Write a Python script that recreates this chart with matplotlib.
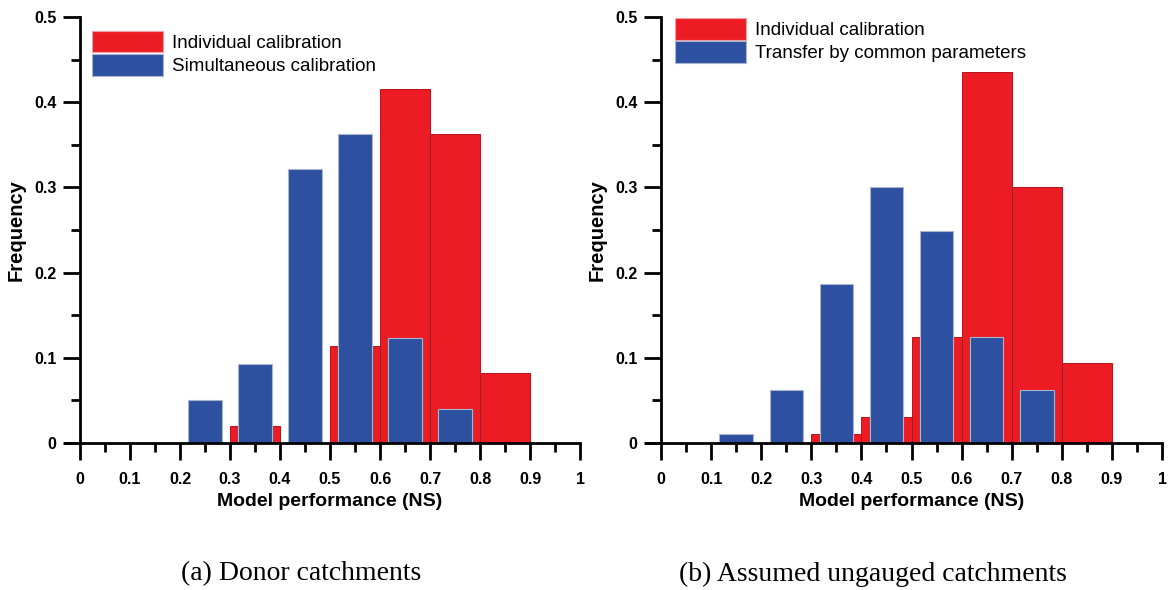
import numpy as np
import matplotlib
matplotlib.use('Agg')
import matplotlib.pyplot as plt
from matplotlib.patches import Patch
from matplotlib.ticker import MultipleLocator

# bin left edges (NS) and frequencies
bin_edges = [0.0, 0.1, 0.2, 0.3, 0.4, 0.5, 0.6, 0.7, 0.8, 0.9]

red_donor = [0, 0, 0, 0.020, 0, 0.114, 0.415, 0.363, 0.082, 0]
blue_donor = [0, 0, 0.051, 0.093, 0.321, 0.363, 0.123, 0.040, 0, 0]

red_ungauged = [0, 0, 0, 0.010, 0.030, 0.124, 0.436, 0.301, 0.094, 0]
blue_ungauged = [0, 0.010, 0.062, 0.187, 0.301, 0.249, 0.124, 0.062, 0, 0]

x_ticks = [0, 0.1, 0.2, 0.3, 0.4, 0.5, 0.6, 0.7, 0.8, 0.9, 1]
x_tick_labels = ['0', '0.1', '0.2', '0.3', '0.4', '0.5', '0.6', '0.7', '0.8', '0.9', '1']
y_ticks = [0, 0.1, 0.2, 0.3, 0.4, 0.5]
y_tick_labels = ['0', '0.1', '0.2', '0.3', '0.4', '0.5']

RED = '#ed1c24'
BLUE = '#2d50a0'

plt.rcParams['font.family'] = ['Liberation Sans', 'DejaVu Sans']

fig = plt.figure(figsize=(11.7, 5.9), dpi=100)
ax1 = fig.add_axes([0.0684, 0.2492, 0.4274, 0.7220])
ax2 = fig.add_axes([0.5650, 0.2492, 0.4282, 0.7220])


def draw_panel(ax, red, blue, blue_label, caption, legend_anchor, caption_x):
    edges = np.array(bin_edges)
    ax.bar(edges, red, width=0.1, align='edge', color=RED,
           edgecolor='#b3151c', linewidth=0.7, zorder=2)
    ax.bar(edges + 0.05, blue, width=0.067, align='center', color=BLUE,
           edgecolor='#a9b4cf', linewidth=0.8, zorder=3)

    ax.set_xlim(0, 1)
    ax.set_ylim(0, 0.5)
    for side in ['top', 'right']:
        ax.spines[side].set_visible(False)
    for side in ['left', 'bottom']:
        ax.spines[side].set_linewidth(2)
        ax.spines[side].set_zorder(4)
    ax.spines['bottom'].set_bounds(-0.03, 1)

    ax.set_xticks(x_ticks)
    ax.set_xticklabels(x_tick_labels)
    ax.set_yticks(y_ticks)
    ax.set_yticklabels(y_tick_labels)
    ax.xaxis.set_minor_locator(MultipleLocator(0.05))
    ax.yaxis.set_minor_locator(MultipleLocator(0.05))
    ax.tick_params(which='major', direction='out', length=12, width=2, labelsize=11.5, pad=5)
    ax.tick_params(axis='x', which='major', pad=9)
    ax.tick_params(which='minor', direction='out', length=6.5, width=2)
    for lab in ax.get_xticklabels() + ax.get_yticklabels():
        lab.set_fontweight('bold')

    ax.set_xlabel('Model performance (NS)', fontsize=14, fontweight='bold', labelpad=4)
    ax.set_ylabel('Frequency', fontsize=14.5, fontweight='bold', labelpad=6)

    handles = [Patch(facecolor=RED, edgecolor='#f3a0a4', linewidth=0.8),
               Patch(facecolor=BLUE, edgecolor='#a9b4cf', linewidth=0.8)]
    ax.legend(handles, ['Individual calibration', blue_label], loc='upper left',
              frameon=False, fontsize=13.5, handlelength=3.8, handleheight=1.4,
              handletextpad=0.45, labelspacing=0.1, borderpad=0, borderaxespad=0,
              bbox_to_anchor=legend_anchor)

    fig.text(caption_x, 0.027, caption, ha='center', va='center',
             fontsize=20, family=['Liberation Serif', 'DejaVu Serif'])


draw_panel(ax1, red_donor, blue_donor, 'Simultaneous calibration',
           '(a) Donor catchments', (0.024, 0.968), 0.257)
draw_panel(ax2, red_ungauged, blue_ungauged, 'Transfer by common parameters',
           '(b) Assumed ungauged catchments', (0.028, 0.998), 0.746)

fig.savefig('out.png', dpi=100)
